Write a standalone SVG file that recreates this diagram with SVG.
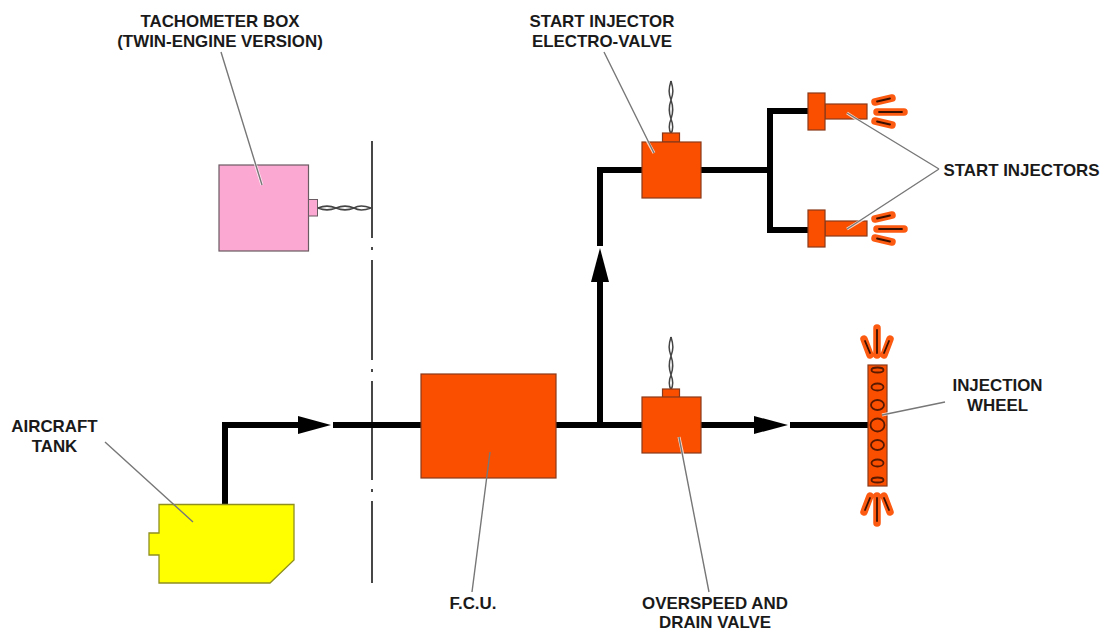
<svg xmlns="http://www.w3.org/2000/svg" xmlns:xlink="http://www.w3.org/1999/xlink" width="1104" height="632" viewBox="0 0 1104 632">
<style>
text{font-family:"Liberation Sans",Arial,sans-serif;font-weight:bold;font-size:16.9px;fill:#1a1a1a;text-anchor:middle}
.pipe{fill:none;stroke:#000;stroke-width:6}
.head{fill:#000}
.o{fill:#fb4f00;stroke:#8a3a1a;stroke-width:1.2}
.halo{fill:none;stroke:#fff;stroke-width:3;stroke-opacity:.75}
.lead{fill:none;stroke:#777;stroke-width:1.4}
.wire{fill:none;stroke:#444;stroke-width:1.5}
.fo{fill:none;stroke:#fb5a10;stroke-width:7.5;stroke-linecap:round}
.fi{fill:none;stroke:#3a1000;stroke-width:1.8;stroke-linecap:round}
.hole{fill:none;stroke:#5a1a00;stroke-width:1.8}
</style>
<defs>
<g id="wireV"><path class="wire" d="M0 0C-2.500 8-2.500 12 0 19C2.500 12 2.500 8 0 0M0 19C-2.500 26-2.500 31 0 38C2.500 31 2.500 26 0 19M0 38C-2.500 44-2.500 48 0 53C2.500 48 2.500 44 0 38"/></g>
<g id="fl"><path class="fo" d="M875-1L892-5M877 9L904 9M875 18L892 22"/><path class="fi" d="M877-1.500L890-4.500M879 9L902 9M877 18.500L890 21.500"/></g>
</defs>
<g id="dash-line"><path d="M372 141V238M372 247V250M372 260V360M372 369V372M372 381V480M372 489V492M372 501V583" fill="none" stroke="#333" stroke-width="1.8"/></g>
<g id="connectors">
<path class="pipe" d="M225 505V425H300"/>
<path class="head" d="M298 416L331 425L298 434Z"/>
<path class="pipe" d="M333 425H421M556 425H642M701 425H756M790 425H868"/>
<path class="head" d="M754 416L788 425L754 434Z"/>
<path class="pipe" d="M600 425V280M600 246V170H642M701 170H770M808 111H770V230H808"/>
<path class="head" d="M591 282L600 248L609 282Z"/>
</g>
<g id="tachometer-box"><rect x="219" y="165" width="89.500" height="86" fill="#fba9d2" stroke="#6a5a62" stroke-width="1.2"/><rect x="308.500" y="199.500" width="9" height="16.500" fill="#fba9d2" stroke="#6a5a62" stroke-width="1"/><path class="wire" d="M318 208C324 205.500 330 205.500 336 208C330 210.500 324 210.500 318 208M336 208C342 205.500 348 205.500 354 208C348 210.500 342 210.500 336 208M354 208C358 205.500 364 205.500 371 208C364 210.500 358 210.500 354 208"/></g>
<g id="aircraft-tank"><path d="M159 504.500H294V560L270 583H159V555H149V533H159Z" fill="#ffff00" stroke="#8f8f20" stroke-width="1.300"/></g>
<g id="fcu"><rect class="o" x="421" y="374" width="135" height="104"/></g>
<g id="electro-valve"><use xlink:href="#wireV" href="#wireV" x="671" y="81"/><rect class="o" x="662.500" y="133" width="17" height="9"/><rect class="o" x="642" y="142" width="59" height="56"/></g>
<g id="drain-valve"><use xlink:href="#wireV" href="#wireV" x="671" y="337"/><rect class="o" x="662.500" y="389" width="17" height="8.500"/><rect class="o" x="642" y="397" width="59" height="56"/></g>
<g id="injector-top"><rect class="o" x="825" y="104" width="42" height="15"/><rect class="o" x="808" y="93" width="17" height="37"/><use xlink:href="#fl" href="#fl" y="103"/></g>
<g id="injector-bottom"><rect class="o" x="825" y="221" width="42" height="15"/><rect class="o" x="808" y="210" width="17" height="37"/><use xlink:href="#fl" href="#fl" y="220"/></g>
<g id="injection-wheel">
<rect class="o" x="868" y="365" width="19" height="121"/>
<ellipse class="hole" cx="877.500" cy="370" rx="6" ry="2.500"/><ellipse class="hole" cx="877.500" cy="387" rx="6" ry="3.500"/><ellipse class="hole" cx="877.500" cy="405" rx="6.500" ry="5"/><ellipse class="hole" cx="877.500" cy="425" rx="7" ry="6.500"/><ellipse class="hole" cx="877.500" cy="445" rx="6.500" ry="5"/><ellipse class="hole" cx="877.500" cy="463" rx="6" ry="3.500"/><ellipse class="hole" cx="877.500" cy="480" rx="6" ry="2.500"/>
<path class="fo" d="M864 339L870 355M877 328V355M890 339L884 355M870 496L864 512M877 496V523M884 496L890 512"/>
<path class="fi" d="M865 341L870 353M877 330V353M889 341L884 353M870 498L865 510M877 498V521M884 498L889 510"/>
</g>
<g id="leaders">
<path class="halo" d="M262 185L250 147M654 153L640 128M847 113L870 128M847 229L870 215M882 415L900 411M679 437L684 460"/>
<path class="lead" d="M221 52L262 185M604 52L654 153M939 169L847 113M939 169L847 229M945 402L882 415M709 592L679 437M472 592L490 452M105 442L193 522"/>
</g>
<g id="labels">
<text x="220" y="27">TACHOMETER BOX</text>
<text x="220" y="47">(TWIN-ENGINE VERSION)</text>
<text x="602" y="27">START INJECTOR</text>
<text x="602" y="47">ELECTRO-VALVE</text>
<text x="1021.500" y="176">START INJECTORS</text>
<text x="997.500" y="391">INJECTION</text>
<text x="997.500" y="411">WHEEL</text>
<text x="54.500" y="432">AIRCRAFT</text>
<text x="54.500" y="452">TANK</text>
<text x="473" y="609">F.C.U.</text>
<text x="715" y="609">OVERSPEED AND</text>
<text x="715" y="628">DRAIN VALVE</text>
</g>
</svg>
